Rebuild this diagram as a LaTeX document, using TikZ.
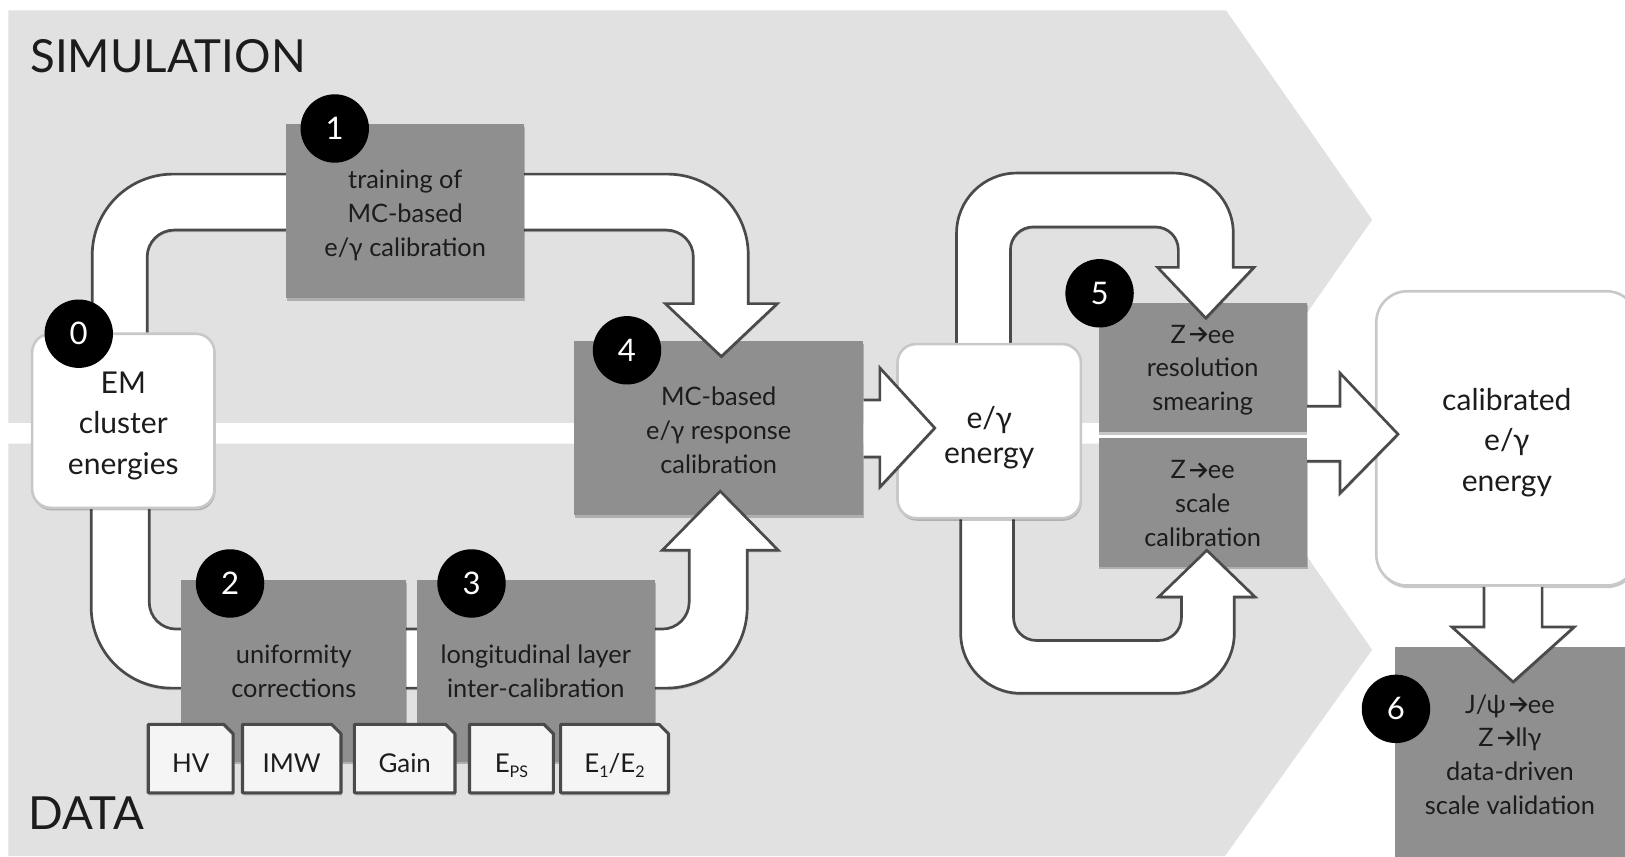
\documentclass[tikz,border=0pt]{standalone}
\usepackage{fontspec}
\setmainfont{Lato}
\usetikzlibrary{shadows}
\definecolor{band}{HTML}{E1E1E1}
\definecolor{boxgray}{HTML}{8F8F8F}
\definecolor{ink}{HTML}{1C1C1C}
\definecolor{arrline}{HTML}{4A4A4A}
\definecolor{wline}{HTML}{C8C8C8}
\definecolor{tagfill}{HTML}{F5F5F5}
\newcommand\zarr{\kern3pt\tikz[x=1pt,y=1pt,baseline=-8.5pt]{\draw[ink,line width=2.2pt,line cap=butt,line join=miter] (0,0) -- (14,0) (8.5,6.5) -- (15,0) -- (8.5,-6.5);}\kern1pt}
\newcommand\lowsub[1]{\raisebox{-5pt}{\fontsize{15.5}{15.5}\selectfont #1}}
\newcommand\tagnode[4]{%
  \filldraw[tagshape] (#2,699) -- ({#3-9},699) -- (#3,708) -- (#3,765) -- (#2,765) -- cycle;
  \node[tagtext] (#1) at ({(#2+#3)/2},745) {#4};}
\begin{document}
\begin{tikzpicture}[x=1pt,y=-1pt,
  every node/.style={text=ink},
  softshadow/.style={drop shadow={shadow xshift=0.8pt,shadow yshift=-2.5pt,opacity=0.22,fill=black}},
  gbox/.style={rectangle, fill=boxgray, inner sep=0pt, softshadow},
  wbox/.style={rectangle, rounded corners=18pt, fill=white, draw=wline, line width=2.5pt,
    inner sep=0pt, softshadow},
  gtext/.style={align=center, inner sep=0pt, font=\fontsize{24.5}{32.5}\selectfont},
  wtext/.style={align=center, inner sep=0pt, font=\fontsize{29}{39}\selectfont},
  num/.style={circle, fill=black, text=white, minimum size=66pt, inner sep=0pt,
    font=\fontsize{30}{30}\selectfont},
  tagshape/.style={fill=tagfill, draw=arrline, line width=3pt, line join=round, softshadow},
  tagtext/.style={anchor=base, inner sep=0pt, font=\fontsize{25}{25}\selectfont},
  blk/.style={fill=white, draw=arrline, line width=2.6pt, line join=miter,
    drop shadow={shadow xshift=0.6pt,shadow yshift=-2pt,opacity=0.15,fill=black}},
  bandtitle/.style={anchor=base west, inner sep=0pt, font=\fontsize{44}{44}\selectfont}]
\useasboundingbox (0,0) rectangle (1568,826);
\clip (0,0) rectangle (1568,826);
\fill[white] (0,0) rectangle (1568,826);
% bands
\fill[band] (8,10) -- (1183,10) -- (1324,212) -- (1187,408) -- (8,408) -- cycle;
\fill[band] (8,428) -- (1185,428) -- (1324,627) -- (1182,826) -- (8,826) -- cycle;
\node[bandtitle] (sim) at (29,70) {SIMULATION};
\node[bandtitle] (data) at (27,800) {DATA};
% boxes lying under the arrow heads
\node[gbox, minimum width=279, minimum height=168] (b4) at (693.5,413) {};
\node[gtext] (b4t) at (693.5,415) {MC-based\\e/γ response\\calibration};
\node[gbox, minimum width=201, minimum height=125] (b5a) at (1160.5,354.5) {};
\node[gtext] (b5at) at (1160.5,357) {Z\zarr{}ee\\resolution\\smearing};
\node[gbox, minimum width=201, minimum height=124] (b5b) at (1160.5,485) {};
\node[gtext] (b5bt) at (1160.5,486) {Z\zarr{}ee\\scale\\calibration};
\node[gbox, minimum width=222, minimum height=210] (b6) at (1457,729) {};
\node[gtext] (b6t) at (1457,728) {J/ψ\zarr{}ee\\Z\zarr{}llγ\\data-driven\\scale validation};
% loop arrows
\filldraw[blk] (89,340) -- (89,246) arc[start angle=180,end angle=270,radius=78]
  -- (644,168) arc[start angle=270,end angle=360,radius=78]
  -- (722,293) -- (750,293) -- (696,344) -- (642,293) -- (669,293)
  -- (669,248) arc[start angle=0,end angle=-90,radius=26]
  -- (168,222) arc[start angle=270,end angle=180,radius=26] -- (142,340);
\filldraw[blk] (88,480) -- (88,586) arc[start angle=180,end angle=90,radius=78]
  -- (643,664) arc[start angle=90,end angle=0,radius=78]
  -- (721,531) -- (751,531) -- (695,474) -- (639,531) -- (665,531)
  -- (665,581) arc[start angle=0,end angle=90,radius=26]
  -- (170,607) arc[start angle=90,end angle=180,radius=26] -- (144,480);
\filldraw[blk] (923,345) -- (923,225) arc[start angle=180,end angle=270,radius=58]
  -- (1132,167) arc[start angle=270,end angle=360,radius=58]
  -- (1190,258) -- (1210,258) -- (1163.5,307) -- (1117,258) -- (1137,258)
  -- (1137,241) arc[start angle=0,end angle=-90,radius=22]
  -- (997,219) arc[start angle=270,end angle=180,radius=22] -- (975,345);
\filldraw[blk] (927,490) -- (927,611) arc[start angle=180,end angle=90,radius=58]
  -- (1133,669) arc[start angle=90,end angle=0,radius=58]
  -- (1191,576) -- (1211,576) -- (1164.5,531) -- (1118,576) -- (1140,576)
  -- (1140,596) arc[start angle=0,end angle=90,radius=22]
  -- (1000,618) arc[start angle=90,end angle=180,radius=22] -- (978,490);
% boxes over the loops
\node[wbox, minimum width=176, minimum height=168] (em) at (119,406) {};
\node[wtext] (emt) at (119,411) {EM\\cluster\\energies};
\node[gbox, minimum width=230, minimum height=168] (b1) at (391,204) {};
\node[gtext] (b1t) at (391,208) {training of\\MC-based\\e/γ calibration};
\node[gbox, minimum width=217, minimum height=175] (b2) at (283.5,647.5) {};
\node[gtext] (b2t) at (283.5,648) {uniformity\\corrections};
\node[gbox, minimum width=230, minimum height=175] (b3) at (517,647.5) {};
\node[gtext] (b3t) at (517,648) {longitudinal layer\\inter-calibration};
\node[wbox, minimum width=177, minimum height=168] (energy) at (954.5,416) {};
\node[wtext, font=\fontsize{29}{34}\selectfont] (energyt) at (954.5,422) {e/γ\\energy};
\node[wbox, rounded corners=30pt, minimum width=252, minimum height=284] (cal) at (1454,423) {};
\node[wtext] (calt) at (1454,427) {calibrated\\e/γ\\energy};
% straight block arrows
\filldraw[blk] (b4.east |- 0,386) -- (849,386) -- (849,355) -- (902,413) -- (849,470) -- (849,441) -- (b4.east |- 0,441);
\filldraw[blk] (b5a.east |- 0,392) -- (1293,392) -- (1293,360) -- (1349,419) -- (1293,476) -- (1293,445) -- (b5b.east |- 0,445);
\filldraw[blk] (1432,0 |- cal.south) -- (1432,605) -- (1401,605) -- (1460,658) -- (1519,605) -- (1488,605) -- (1488,0 |- cal.south);
% tags
\tagnode{hv}{143}{225}{HV}
\tagnode{imw}{234}{329}{IMW}
\tagnode{gain}{342}{439}{Gain}
\tagnode{eps}{453}{534}{E\lowsub{PS}}
\tagnode{eot}{541}{645}{E\lowsub{1}/E\lowsub{2}}
% step numbers
\node[num] (n0) at (76,322) {0};
\node[num] (n1) at (323,124) {1};
\node[num] (n2) at (222,563) {2};
\node[num] (n3) at (455,563) {3};
\node[num] (n4) at (605,338) {4};
\node[num] (n5) at (1061,283) {5};
\node[num] (n6) at (1347,684) {6};
\end{tikzpicture}
\end{document}
